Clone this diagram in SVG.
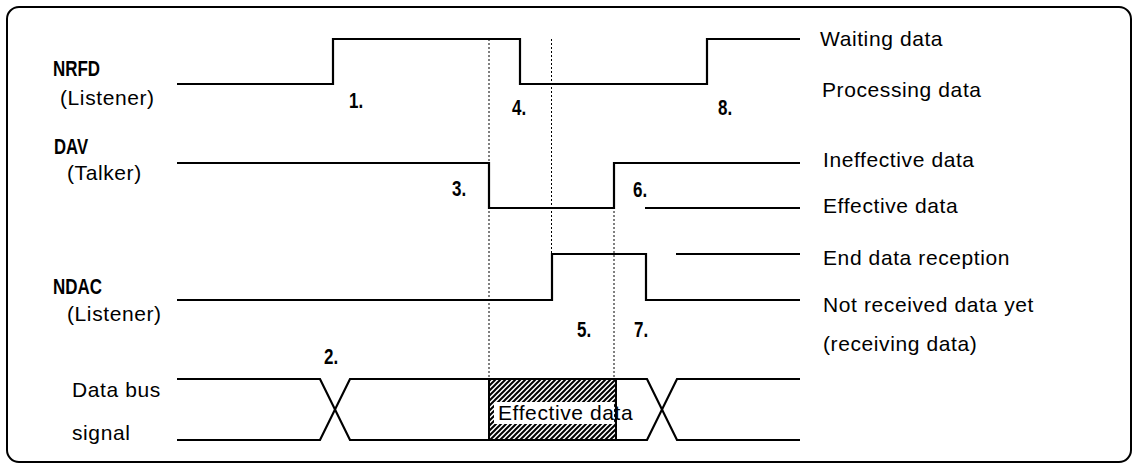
<svg xmlns="http://www.w3.org/2000/svg" width="1138" height="468" viewBox="0 0 1138 468">
<style>
.frame{fill:none;stroke:#000;stroke-width:2}
.sig{fill:none;stroke:#000;stroke-width:2.2;stroke-linejoin:miter}
.dot{fill:none;stroke:#000;stroke-width:1;stroke-dasharray:2,2}
.lbl{font-family:"Liberation Sans",Arial,sans-serif;font-size:21px;letter-spacing:0.6px;fill:#000}
.bold{font-family:"Liberation Sans",Arial,sans-serif;font-size:22px;font-weight:bold;fill:#000}
</style>
<defs>
<pattern id="hatch" patternUnits="userSpaceOnUse" x="0" y="0" width="5" height="5">
<path d="M0,5 L5,0 M-1,1 L1,-1 M4,6 L6,4" stroke="#000" stroke-width="2" fill="none"/>
</pattern>
</defs>
<rect class="frame" x="7" y="7" width="1124" height="455" rx="12"/>
<g id="guides">
<line class="dot" x1="489" y1="39" x2="489" y2="379"/>
<line class="dot" x1="551.5" y1="39" x2="551.5" y2="254"/>
<line class="dot" x1="614" y1="163" x2="614" y2="379"/>
</g>
<g id="nrfd">
<path class="sig" d="M177,84 H333 V39 H520 V84 H707 V39 H800"/>
<text class="bold" transform="translate(53,76) scale(0.77,1)">NRFD</text>
<text class="lbl" x="60" y="105">(Listener)</text>
</g>
<g id="dav">
<path class="sig" d="M177,163 H489 V208 H614 V163 H800"/>
<path class="sig" d="M645,208 H800"/>
<text class="bold" transform="translate(54,154) scale(0.76,1)">DAV</text>
<text class="lbl" x="67" y="180">(Talker)</text>
</g>
<g id="ndac">
<path class="sig" d="M177,300 H552 V254 H646 V300 H800"/>
<path class="sig" d="M676,254 H800"/>
<text class="bold" transform="translate(53,294) scale(0.77,1)">NDAC</text>
<text class="lbl" x="67" y="321">(Listener)</text>
</g>
<g id="databus">
<rect x="489" y="379" width="127" height="61" fill="url(#hatch)"/>
<rect x="494" y="402" width="120" height="22" fill="#fff"/>
<path class="sig" d="M177,379 H320 L350,440 H647 L677,379 H800"/>
<path class="sig" d="M177,440 H320 L350,379 H647 L677,440 H800"/>
<rect x="489" y="379" width="127" height="61" fill="none" stroke="#000" stroke-width="2"/>
<text class="lbl" x="498" y="420">Effective data</text>
<text class="lbl" x="72" y="397">Data bus</text>
<text class="lbl" x="72" y="440">signal</text>
</g>
<g id="steps">
<text class="bold" transform="translate(349,108) scale(0.77,1)">1.</text>
<text class="bold" transform="translate(324,364) scale(0.77,1)">2.</text>
<text class="bold" transform="translate(452,196) scale(0.77,1)">3.</text>
<text class="bold" transform="translate(512,115) scale(0.77,1)">4.</text>
<text class="bold" transform="translate(577,337) scale(0.77,1)">5.</text>
<text class="bold" transform="translate(633,197) scale(0.77,1)">6.</text>
<text class="bold" transform="translate(634,337) scale(0.77,1)">7.</text>
<text class="bold" transform="translate(718,115) scale(0.77,1)">8.</text>
</g>
<g id="states">
<text class="lbl" x="820" y="46">Waiting data</text>
<text class="lbl" x="822" y="97">Processing data</text>
<text class="lbl" x="823" y="167">Ineffective data</text>
<text class="lbl" x="823" y="213">Effective data</text>
<text class="lbl" x="823" y="265">End data reception</text>
<text class="lbl" x="823" y="312">Not received data yet</text>
<text class="lbl" x="823" y="351">(receiving data)</text>
</g>
</svg>
